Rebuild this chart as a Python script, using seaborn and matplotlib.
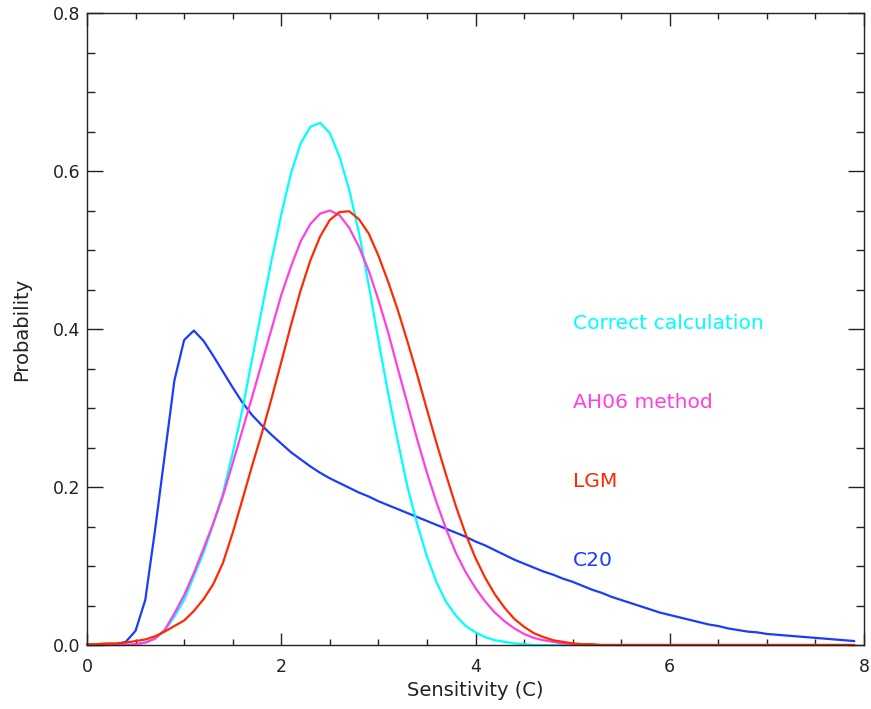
import numpy as np
import pandas as pd
import matplotlib
matplotlib.use("Agg")
import matplotlib.pyplot as plt
from matplotlib.ticker import MultipleLocator, FormatStrFormatter
import seaborn as sns

# Sensitivity grid (C), sampled every 0.1 from 0.0 to 7.9
sensitivity = np.round(np.arange(0, 80) * 0.1, 1)

correct_calc = [0.000, 0.000, 0.000, 0.000, 0.000, 0.001, 0.003, 0.008, 0.018, 0.036,
                0.057, 0.087, 0.117, 0.153, 0.192, 0.243, 0.298, 0.362, 0.425, 0.487,
                0.545, 0.597, 0.635, 0.656, 0.661, 0.648, 0.618, 0.576, 0.522, 0.456,
                0.386, 0.319, 0.258, 0.200, 0.153, 0.112, 0.079, 0.054, 0.037, 0.024,
                0.016, 0.010, 0.006, 0.004, 0.002, 0.001, 0.000, 0.000, 0.000, 0.000,
                0.000, 0.000, 0.000, 0.000, 0.000, 0.000, 0.000, 0.000, 0.000, 0.000,
                0.000, 0.000, 0.000, 0.000, 0.000, 0.000, 0.000, 0.000, 0.000, 0.000,
                0.000, 0.000, 0.000, 0.000, 0.000, 0.000, 0.000, 0.000, 0.000, 0.000]

ah06_method = [0.000, 0.000, 0.000, 0.000, 0.000, 0.001, 0.003, 0.008, 0.019, 0.040,
               0.063, 0.091, 0.122, 0.154, 0.189, 0.230, 0.272, 0.314, 0.357, 0.400,
               0.443, 0.479, 0.511, 0.533, 0.546, 0.550, 0.544, 0.528, 0.504, 0.474,
               0.437, 0.396, 0.350, 0.305, 0.260, 0.218, 0.180, 0.146, 0.116, 0.092,
               0.072, 0.055, 0.041, 0.030, 0.021, 0.014, 0.009, 0.006, 0.004, 0.002,
               0.001, 0.000, 0.000, 0.000, 0.000, 0.000, 0.000, 0.000, 0.000, 0.000,
               0.000, 0.000, 0.000, 0.000, 0.000, 0.000, 0.000, 0.000, 0.000, 0.000,
               0.000, 0.000, 0.000, 0.000, 0.000, 0.000, 0.000, 0.000, 0.000, 0.000]

lgm = [0.001, 0.001, 0.002, 0.002, 0.003, 0.005, 0.007, 0.011, 0.017, 0.024,
       0.031, 0.043, 0.058, 0.077, 0.104, 0.142, 0.184, 0.227, 0.268, 0.312,
       0.358, 0.405, 0.449, 0.487, 0.517, 0.538, 0.548, 0.549, 0.539, 0.521,
       0.493, 0.460, 0.424, 0.384, 0.342, 0.298, 0.255, 0.214, 0.175, 0.140,
       0.110, 0.085, 0.064, 0.047, 0.033, 0.023, 0.015, 0.010, 0.006, 0.004,
       0.002, 0.001, 0.001, 0.000, 0.000, 0.000, 0.000, 0.000, 0.000, 0.000,
       0.000, 0.000, 0.000, 0.000, 0.000, 0.000, 0.000, 0.000, 0.000, 0.000,
       0.000, 0.000, 0.000, 0.000, 0.000, 0.000, 0.000, 0.000, 0.000, 0.000]

c20 = [0.000, 0.000, 0.000, 0.001, 0.004, 0.018, 0.057, 0.145, 0.240, 0.335,
       0.386, 0.398, 0.385, 0.366, 0.346, 0.326, 0.307, 0.291, 0.278, 0.266,
       0.255, 0.244, 0.235, 0.226, 0.218, 0.211, 0.205, 0.199, 0.193, 0.188,
       0.182, 0.177, 0.172, 0.167, 0.162, 0.157, 0.152, 0.147, 0.142, 0.137,
       0.131, 0.126, 0.120, 0.114, 0.108, 0.103, 0.098, 0.093, 0.089, 0.084,
       0.080, 0.075, 0.070, 0.066, 0.061, 0.057, 0.053, 0.049, 0.045, 0.041,
       0.038, 0.035, 0.032, 0.029, 0.026, 0.024, 0.021, 0.019, 0.017, 0.016,
       0.014, 0.013, 0.012, 0.011, 0.010, 0.009, 0.008, 0.007, 0.006, 0.005]

series_names = ["Correct calculation", "AH06 method", "LGM", "C20"]
series_values = [correct_calc, ah06_method, lgm, c20]
series_colors = ["#00ffff", "#ff40e0", "#ff2a00", "#1a3cff"]
label_y = [0.4, 0.3, 0.2, 0.1]
label_x = 5.0

x_ticks = [0, 2, 4, 6, 8]
y_ticks = [0.0, 0.2, 0.4, 0.6, 0.8]

sns.set_style("white")
plt.rcParams["font.family"] = ["DejaVu Sans"]

df = pd.concat(
    [pd.DataFrame({"Sensitivity": sensitivity, "Probability": vals, "series": name})
     for name, vals in zip(series_names, series_values)],
    ignore_index=True,
)

fig = plt.figure(figsize=(8.71, 7.09), dpi=100)
ax = fig.add_axes([87 / 871, 1 - 645 / 709, (864 - 87) / 871, (645 - 13) / 709])

# draw in an order similar to the reference (blue, cyan, magenta, red on top)
draw_order = ["C20", "Correct calculation", "AH06 method", "LGM"]
palette = dict(zip(series_names, series_colors))
sns.lineplot(data=df, x="Sensitivity", y="Probability", hue="series",
             hue_order=draw_order, palette=palette, estimator=None, sort=False,
             legend=False, linewidth=1.6, ax=ax)
for line in ax.get_lines():
    line.set_clip_on(False)

for name, col, yy in zip(series_names, series_colors, label_y):
    ax.text(label_x, yy, name, color=col, fontsize=14.6, ha="left", va="baseline")

ax.set_xlim(0, 8)
ax.set_ylim(0, 0.8)
ax.set_xticks(x_ticks)
ax.set_yticks(y_ticks)
ax.xaxis.set_minor_locator(MultipleLocator(0.5))
ax.yaxis.set_minor_locator(MultipleLocator(0.05))
ax.yaxis.set_major_formatter(FormatStrFormatter("%.1f"))
ax.xaxis.set_major_formatter(FormatStrFormatter("%d"))

ax.tick_params(axis="x", which="major", direction="in", length=9, width=1.0,
               top=True, bottom=True, labelsize=12.5, pad=9, colors="#222222")
ax.tick_params(axis="x", which="minor", direction="in", length=4.5, width=1.0,
               top=True, bottom=True, colors="#222222")
ax.tick_params(axis="y", which="major", direction="in", length=11.5, width=1.0,
               left=True, right=True, labelsize=12.5, pad=5, colors="#222222")
ax.tick_params(axis="y", which="minor", direction="in", length=5.8, width=1.0,
               left=True, right=True, colors="#222222")
for sp in ax.spines.values():
    sp.set_color("#222222")
    sp.set_linewidth(1.0)

ax.set_xlabel("Sensitivity (C)", fontsize=14, color="#222222", labelpad=4)
ax.set_ylabel("Probability", fontsize=14, color="#222222", labelpad=15)

fig.savefig("out.png", dpi=100, facecolor="white")
